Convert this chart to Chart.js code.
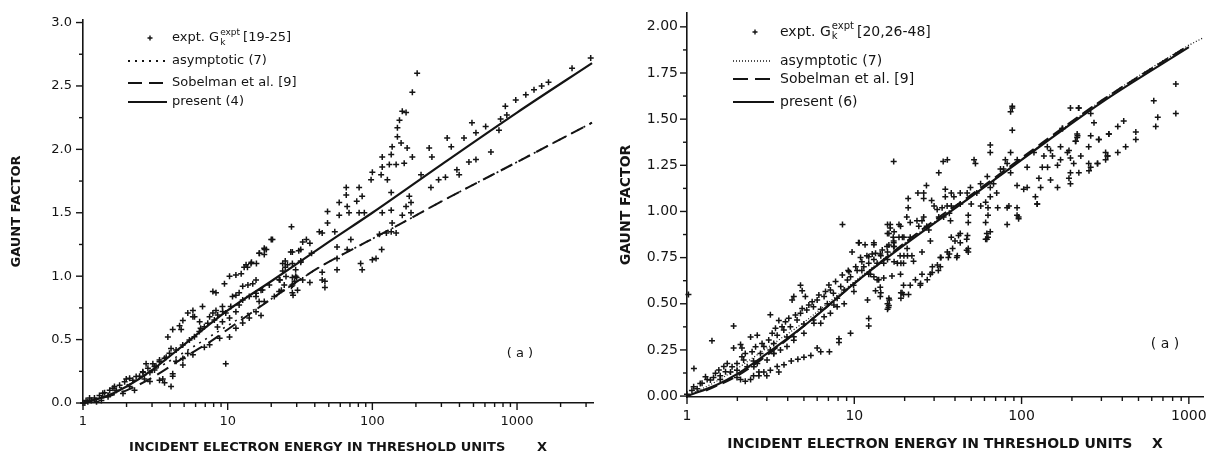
<!DOCTYPE html>
<html>
<head>
<meta charset="utf-8">
<script src="https://cdn.jsdelivr.net/npm/chart.js@4"></script>
<style>
  html, body { margin: 0; padding: 0; background: #fff; }
  #wrap { position: relative; width: 1215px; height: 459px; overflow: hidden; }
  canvas { position: absolute; top: 0; }
  #left { left: 0; }
  #right { left: 600px; }
</style>
</head>
<body>
<div id="wrap">
  <canvas id="left" width="600" height="459"></canvas>
  <canvas id="right" width="615" height="459"></canvas>
</div>
<script>
// ---- data: [x, G] pairs ----
const leftExpt = [
  [204,2.60],[189,2.45],[161,2.30],[171,2.29],[154,2.23],[149,2.17],[149,2.10],[158,2.05],[137,2.02],[174,2.01],
  [117,1.94],[135,1.96],[189,1.94],[117,1.86],[131,1.88],[146,1.88],[166,1.89],[100,1.82],[98,1.76],[115,1.80],
  [127,1.76],[66,1.70],[81,1.70],[66,1.64],[85,1.63],[135,1.66],[78,1.59],[67,1.55],[49,1.51],[59,1.48],
  [69,1.50],[81,1.50],[88,1.50],[117,1.50],[135,1.52],[161,1.48],[185,1.50],[247,2.01],[258,1.94],[329,2.09],
  [351,2.02],[430,2.09],[488,2.21],[520,2.13],[607,2.18],[217,1.80],[254,1.70],[287,1.76],[320,1.78],[384,1.84],
  [398,1.80],[465,1.90],[520,1.92],[180,1.63],[185,1.58],[171,1.55],[137,1.42],[135,1.35],[146,1.34],[112,1.33],
  [125,1.34],[116,1.21],[100,1.13],[106,1.14],[85,1.05],[83,1.10],[71,1.29],[67,1.21],[57,1.23],[57,1.14],
  [57,1.05],[45,1.03],[47,0.96],[59,1.58],[49,1.42],[55,1.35],[45,1.34],[43,1.35],[35,1.29],[37,1.26],
  [33,1.27],[27.6,1.39],[32,1.21],[28,1.19],[38,1.18],[32,1.11],[24,1.10],[25,1.07],[20,1.29],[18,1.21],
  [16.6,1.18],[14.6,1.11],[13,1.07],[30,0.99],[29,0.96],[37,0.95],[33,0.97],[45,0.97],[47,0.91],[23,0.97],
  [23.5,0.89],[27.6,0.92],[3230,2.72],[2400,2.64],[1650,2.53],[1480,2.50],[1310,2.47],[1150,2.43],[980,2.39],[830,2.34],
  [750,2.15],[770,2.24],[850,2.27],[660,1.98],
  [20.4,1.29],[17.9,1.22],[16.5,1.18],[17.9,1.17],[27.3,1.19],[31,1.20],[32,1.12],[25,1.12],[25.9,1.09],[13.4,1.09],
  [14.5,1.10],[12.4,1.02],[11.4,1.01],[10.3,1.00],[9.5,0.94],[7.9,0.88],[8.3,0.87],[6.7,0.76],[5.9,0.68],[4.77,0.58],
  [4.06,0.43],[15.7,0.97],[14.9,0.94],[13.8,0.93],[12.7,0.92],[12.0,0.87],[11.4,0.85],[10.8,0.84],[15.7,0.84],[17.0,0.89],
  [24,1.04],[28,1.10],[29.5,1.0],[28,0.93],[24.6,0.93],[21,0.84],[22.7,0.88],[28,0.87],[30.4,0.89],[17,0.69],
  [16.5,0.80],[10.3,0.67],[11.4,0.72],[9.2,0.64],[9.7,0.71],[8.5,0.60],[8.3,0.73],[9.2,0.76],[7.9,0.71],[7.5,0.68],
  [6.5,0.59],[6.4,0.64],[5.75,0.73],[5.75,0.68],[5.3,0.71],[4.9,0.65],[4.65,0.61],[4.17,0.58],[3.86,0.52],[10.3,0.52],
  [8.8,0.51],[7.5,0.46],[6.9,0.44],[5.75,0.38],[4.9,0.30],[4.17,0.23],[3.56,0.19],[9.7,0.31],[11.4,0.59],[12.7,0.63],
  [14.1,0.67],[15.7,0.72],[17.9,0.80],[4.06,0.13],[3.2,0.29],[3.04,0.31],[2.73,0.31],[2.9,0.24],[3.76,0.36],[3.38,0.34],
  [3.12,0.26],[3.66,0.16],[4.17,0.21],[4.9,0.35],[4.4,0.33],[5.3,0.39],[2.6,0.24],[2.46,0.21],[2.21,0.18],[1.99,0.19],
  [1.79,0.14],[1.65,0.13],[1.53,0.10],[1.41,0.08],[1.30,0.06],[1.20,0.04],[1.11,0.04],[1.05,0.02],[2.27,0.10],[2.10,0.13],
  [1.89,0.075],[1.70,0.10],[1.49,0.05],[1.34,0.02],[1.24,0.01],[2.9,0.17],[3.38,0.18],[2.66,0.19],[1.03,0.0],[1.08,0.01],
  [1.14,0.02],[1.0,0.0],[28,0.99],[28.3,0.85],[13.7,1.07],[15.8,1.10],[18.5,1.21],
  [1.37,0.077],[1.61,0.116],[1.94,0.168],[2.10,0.195],[2.33,0.208],[2.59,0.247],[2.81,0.274],[3.12,0.287],[3.38,0.326],[3.66,0.352],
  [3.96,0.392],[4.40,0.418],[4.89,0.458],[5.44,0.497],[5.89,0.523],[6.37,0.563],[6.90,0.602],[7.28,0.629],[8.09,0.655],[8.53,0.694],
  [9.23,0.721],[10.5,0.76],[12.0,0.773],[12.7,0.813],[14.1,0.839],[15.7,0.865],[17.4,0.892],[19.4,0.931],[22.7,0.971],[25.3,0.997],
  [29.5,1.05]
];
const leftAsym    = [[1.2,0.03],[2,0.14],[3,0.25],[5,0.40],[10,0.61],[20,0.82],[43,1.07],[91,1.27],[161,1.42],[290,1.58],[1000,1.90],[3300,2.21]];
const leftSobel   = [[1,0],[2,0.10],[3,0.20],[5,0.36],[7.5,0.48],[10,0.58],[20,0.82],[43,1.07],[91,1.27],[161,1.42],[290,1.58],[1000,1.90],[3300,2.21]];
const leftPresent = [[1,0],[1.5,0.06],[2,0.13],[3,0.26],[5,0.46],[10,0.73],[20,0.96],[50,1.27],[100,1.50],[300,1.88],[1000,2.29],[3300,2.68]];

const rightExpt = [
  [8.5,0.93],[15.8,0.93],[18.5,0.93],[15.8,0.88],[17.3,0.89],[19.8,0.86],[10.7,0.83],[9.7,0.78],[13.1,0.82],[12.8,0.77],
  [10.9,0.75],[11.4,0.70],[10.4,0.68],[12.2,0.72],[14.4,0.76],[15.8,0.78],[17.3,0.81],[15.0,0.72],[19.0,0.72],[19.8,0.76],
  [20.7,0.80],[14.0,0.63],[14.4,0.56],[16.2,0.52],[15.8,0.47],[19.0,0.56],[19.0,0.53],[12.2,0.42],[12.2,0.38],[9.5,0.34],
  [8.1,0.31],[8.1,0.29],[7.1,0.24],[6.3,0.24],[6.0,0.26],[5.5,0.22],[5.0,0.21],[4.6,0.20],[4.2,0.19],[3.8,0.17],
  [3.46,0.16],[3.15,0.14],[2.88,0.13],[2.69,0.13],[3.54,0.13],[3.0,0.11],[2.69,0.11],[2.5,0.11],[2.4,0.09],[2.23,0.08],
  [2.09,0.09],[1.99,0.10],[4.77,0.60],[4.88,0.57],[4.35,0.54],[5.1,0.54],[4.25,0.52],[3.15,0.44],[3.54,0.41],[1.9,0.38],
  [1.41,0.30],[2.4,0.32],[2.63,0.33],[2.13,0.26],[1.9,0.26],[2.09,0.28],[1.66,0.16],[1.82,0.13],[1.58,0.11],[1.44,0.10],
  [1.32,0.09],[1.23,0.07],[1.15,0.04],[1.07,0.03],[1.0,0.01],[1.10,0.15],[1.02,0.55],
  [1.58,0.09],[1.99,0.14],[2.5,0.19],[3.15,0.25],[3.96,0.32],[5.0,0.39],[6.3,0.47],[7.9,0.53],[9.9,0.60],[12.5,0.66],
  [15.8,0.74],[1.74,0.177],[2.18,0.195],[2.29,0.159],[2.75,0.231],[2.88,0.268],[3.30,0.285],[3.46,0.33],[3.79,0.358],[4.15,0.376],
  [4.55,0.412],[4.77,0.448],[5.2,0.466],[5.7,0.484],[6.0,0.52],[6.6,0.539],[6.9,0.50],[7.2,0.575],[7.5,0.557],[8.3,0.593],
  [8.7,0.575],[9.1,0.629],[9.5,0.647],[5.7,0.412],[6.3,0.394],[5.0,0.34],[4.35,0.303],[3.96,0.268],[3.62,0.249],[3.30,0.231],
  [3.01,0.195],[2.63,0.177],[6.6,0.43],[7.2,0.448],[7.9,0.484],[8.7,0.50],
  [12.0,0.52],[15.8,0.50],[16.0,0.48],[18.1,0.72],[18.8,0.76],[20.8,0.76],[14.3,0.59],[14.3,0.54],[19.4,0.86],[16.4,0.91],
  [17.1,0.86],[10.6,0.83],[9.2,0.68],
  [1.096,0.05],[1.20,0.068],[1.29,0.105],[1.38,0.087],[1.48,0.123],[1.55,0.141],[1.70,0.132],[1.86,0.159],[1.99,0.177],[2.13,0.213],
  [2.23,0.231],[2.45,0.24],[2.57,0.267],[2.81,0.285],[3.08,0.304],[3.23,0.34],[3.38,0.367],[3.70,0.376],[3.88,0.403],[4.06,0.421],
  [4.45,0.439],[4.88,0.475],[5.35,0.493],[5.60,0.511],[6.14,0.548],[6.73,0.566],[7.05,0.602],[7.73,0.62],[8.48,0.656],[9.30,0.674],
  [10.2,0.701],[11.1,0.728],[12.2,0.755],[13.4,0.773],[14.7,0.791],[16.1,0.818],
  [2.51,0.159],[3.30,0.231],[4.35,0.322],[5.74,0.394],[7.55,0.493],[9.95,0.566],[13.1,0.647],[17.3,0.728],
  [88,1.56],[88,1.44],[196,1.56],[220,1.56],[259,1.53],[175,1.45],[333,1.42],[290,1.39],[259,1.41],[215,1.40],
  [210,1.38],[192,1.33],[196,1.29],[171,1.28],[149,1.33],[153,1.30],[326,1.30],[318,1.28],[284,1.26],[259,1.24],
  [253,1.22],[220,1.21],[192,1.18],[196,1.15],[164,1.13],[149,1.17],[133,1.24],[143,1.24],[130,1.13],[127,1.18],
  [121,1.08],[124,1.04],[108,1.13],[103,1.12],[94,1.14],[86,1.32],[80,1.28],[78,1.23],[65,1.36],[65,1.32],
  [52,1.28],[53,1.26],[71,1.10],[65,1.08],[61,1.05],[57,1.03],[65,1.13],[84,1.03],[94,1.02],[96,0.97],
  [82,0.93],[61,0.94],[62,0.88],[61,0.85],[47,0.85],[47,0.79],[41,0.75],[37,0.77],[33,0.75],[42,0.87],
  [38,0.86],[38,1.10],[43,1.10],[50,1.04],[38,1.03],[35,1.12],[35,1.08],[36,1.28],[34,1.27],[32,1.21],
  [27,1.14],[29,1.06],[30,1.03],[26,1.10],[26,1.07],[24,1.10],[32,0.97],[33.5,1.02],[37,0.99],[17.2,1.27],
  [21,1.07],[21,1.02],[20.6,0.97],[21.6,0.94],[18.9,0.92],[18.5,0.86],[16.4,0.93],[16.1,0.88],[17.2,0.84],[25.4,0.95],
  [24.3,0.92],[27.9,0.90],[37.6,0.95],[43,0.88],[40,0.84],[28.5,0.84],[25.4,0.78],[22.1,0.76],[22.6,0.73],[19.7,0.72],
  [18.9,0.66],[16.8,0.65],[15.0,0.64],[13.7,0.63],[13.4,0.57],[32.7,0.70],[29.2,0.67],[25.4,0.66],[23.2,0.63],[24.8,0.60],
  [19.7,0.60],[19.3,0.56],[21.1,0.55],[16.1,0.53],[16.1,0.49],[13.1,0.83],[11.6,0.82],[11.9,0.76],[11.1,0.68],[12.2,0.66],
  [13.1,0.74],[14.3,0.77],[15.7,0.81],[17.2,0.83],
  [13.7,0.72],[17.2,0.81],[21.6,0.86],[27.1,0.92],[34.2,0.97],[43,1.04],[54,1.10],[68,1.15],[86,1.21],[108,1.24],
  [136,1.30],[171,1.35],[215,1.42],[271,1.48],[23.7,0.95],[26.0,0.97],[31.3,1.01],[35.9,1.03],[39.4,1.08],[47.3,1.10],
  [49.5,1.13],[56.9,1.15],[62.4,1.19],[74.8,1.23],[82,1.26],[94.2,1.28],[118.6,1.32],[142.6,1.35],
  [836,1.69],[836,1.53],[617,1.60],[652,1.51],[634,1.46],[482,1.43],[482,1.39],[408,1.49],[376,1.46],[332,1.42],
  [419,1.35],[376,1.32],[327,1.30],[318,1.32],[289,1.39],[252,1.35],[285,1.26],[252,1.26],[226,1.30],[216,1.41],
  [211,1.38],[188,1.32],[205,1.26],[196,1.21],[164,1.25],[219,1.56],[176,1.45],[88,1.57],[86,1.54],
  [124,1.04],[94,0.98],[96,0.96],[82,1.02],[72,1.02],[63,1.02],[63,0.98],[65,0.89],[63,0.86],[62,0.85],
  [48,0.98],[48,0.94],[47.5,0.87],[48,0.80],[48,0.78],[43,0.83],[38.7,0.80],[41.3,0.76],[36.5,0.75],[36,0.78],
  [32.7,0.75],[31.4,0.71],[31.8,0.68],[29.3,0.70],[28.5,0.66],[27.3,0.63],[24.9,0.61],[21.6,0.60],[19.7,0.55]
];
const rightAsym    = [[1,0],[1.5,0.08],[2,0.15],[3,0.26],[5,0.40],[10,0.62],[20,0.83],[50,1.08],[100,1.28],[300,1.60],[1000,1.90],[1215,1.94]];
const rightSobel   = [[1.3,0.03],[2,0.11],[3,0.22],[5,0.38],[10,0.61],[20,0.83],[30,0.95],[50,1.09],[100,1.29],[300,1.60],[1000,1.90]];
const rightPresent = [[1,0],[1.5,0.06],[2,0.12],[3,0.23],[5,0.38],[7,0.49],[10,0.61],[20,0.82],[50,1.08],[100,1.28],[300,1.59],[1000,1.89]];

const xMajor = [1, 10, 100, 1000];
const ink = '#141414';

function toXY(arr) { return arr.map(p => ({ x: p[0], y: p[1] })); }

function logTicks(max) {
  const out = [];
  for (let d = 1; d <= 1000; d *= 10) {
    for (let m = 1; m <= 9; m++) {
      const v = m * d;
      if (v <= max) out.push({ value: v, big: m === 1 });
    }
  }
  return out;
}

function linTicks(max, step, every) {
  const out = [];
  for (let i = 0; i * step <= max + 1e-9; i++) {
    out.push({ value: +(i * step).toFixed(4), big: i % every === 0 });
  }
  return out;
}

function cross(ctx, x, y, r) {
  ctx.beginPath();
  ctx.moveTo(x - r, y); ctx.lineTo(x + r, y);
  ctx.moveTo(x, y - r); ctx.lineTo(x, y + r);
  ctx.stroke();
}

// tick marks, legend and panel tag
const decor = {
  id: 'decor',
  afterDraw(chart, args, o) {
    const ctx = chart.ctx;
    const xs = chart.scales.x, ys = chart.scales.y;
    const f = o.size;
    ctx.save();
    ctx.strokeStyle = ink;
    ctx.fillStyle = ink;
    ctx.lineWidth = 1.4;
    xs.ticks.forEach(t => {
      const px = xs.getPixelForValue(t.value);
      ctx.beginPath();
      ctx.moveTo(px, xs.top);
      ctx.lineTo(px, xs.top + (t.big ? 7 : 4));
      ctx.stroke();
    });
    ys.ticks.forEach(t => {
      const py = ys.getPixelForValue(t.value);
      ctx.beginPath();
      ctx.moveTo(ys.right, py);
      ctx.lineTo(ys.right - (t.big ? 7 : 4), py);
      ctx.stroke();
    });

    // legend
    const L = o.legend;
    const [r0, r1, r2, r3] = L.rows;
    ctx.lineWidth = 1.4;
    cross(ctx, L.markX, r0, 2.5);
    ctx.textBaseline = 'middle';
    ctx.font = f + 'px "DejaVu Sans"';
    let x = L.textX;
    ctx.fillText('expt. G', x, r0);
    x += ctx.measureText('expt. G').width;
    ctx.font = Math.round(f * 0.72) + 'px "DejaVu Sans"';
    ctx.fillText('k', x + 1, r0 + f * 0.35);
    ctx.fillText('expt', x + 1, r0 - f * 0.42);
    const w = ctx.measureText('expt').width;
    ctx.font = f + 'px "DejaVu Sans"';
    ctx.fillText(L.ref, x + w + 4, r0);
    ctx.fillText(L.labels[0], L.textX, r1);
    ctx.fillText(L.labels[1], L.textX, r2);
    ctx.fillText(L.labels[2], L.textX, r3);

    ctx.lineCap = 'butt';
    ctx.setLineDash(L.dot);
    ctx.lineWidth = L.dotWidth;
    ctx.beginPath(); ctx.moveTo(L.lineX0, r1); ctx.lineTo(L.lineX1, r1); ctx.stroke();
    ctx.setLineDash(L.dash);
    ctx.lineWidth = 2;
    ctx.beginPath(); ctx.moveTo(L.lineX0, r2); ctx.lineTo(L.lineX1, r2); ctx.stroke();
    ctx.setLineDash([]);
    ctx.beginPath(); ctx.moveTo(L.lineX0, r3); ctx.lineTo(L.lineX1 + 2, r3); ctx.stroke();

    // panel tag
    ctx.textAlign = 'center';
    ctx.font = f + 'px "DejaVu Sans"';
    ctx.fillText('( a )', o.tag[0], o.tag[1]);
    ctx.restore();
  }
};

function makeChart(id, cfg) {
  const lineBase = { showLine: true, pointRadius: 0, borderColor: ink, fill: false, cubicInterpolationMode: 'monotone' };
  return new Chart(document.getElementById(id).getContext('2d'), {
    type: 'scatter',
    data: {
      datasets: [
        { label: 'expt', data: toXY(cfg.expt), pointStyle: 'cross', pointRadius: 3, borderWidth: 1.5,
          borderColor: ink, backgroundColor: ink, clip: false },
        Object.assign({ label: 'asymptotic', data: toXY(cfg.asym), borderWidth: cfg.dotWidth, borderDash: cfg.dot }, lineBase),
        Object.assign({ label: 'Sobelman', data: toXY(cfg.sobel), borderWidth: 2, borderDash: cfg.dash }, lineBase),
        Object.assign({ label: 'present', data: toXY(cfg.present), borderWidth: 2.2 }, lineBase)
      ]
    },
    options: {
      responsive: false,
      animation: false,
      events: [],
      layout: { padding: cfg.pad },
      plugins: {
        legend: { display: false },
        tooltip: { enabled: false },
        decor: cfg.decor
      },
      scales: {
        x: {
          type: 'logarithmic',
          min: 1,
          max: cfg.xMax,
          afterBuildTicks: s => { s.ticks = logTicks(cfg.xMax); },
          afterFit: s => { s.height = cfg.xH; },
          grid: { display: false, drawTicks: true, tickLength: 7 },
          border: { display: true, color: ink, width: 1.6 },
          ticks: {
            autoSkip: false, maxRotation: 0, padding: 4, color: ink,
            font: { family: 'DejaVu Sans', size: cfg.size },
            callback: v => xMajor.includes(v) ? String(v) : ''
          },
          title: {
            display: true, text: cfg.xTitle, color: ink,
            font: { family: 'DejaVu Sans', size: cfg.titleSize, weight: 'bold' },
            padding: { top: 0, bottom: cfg.xTitlePad }
          }
        },
        y: {
          min: cfg.yMin,
          max: cfg.yMax,
          afterBuildTicks: s => { s.ticks = linTicks(cfg.yMax, cfg.yStep, 2); },
          afterFit: s => { s.width = cfg.yW; },
          grid: { display: false, drawTicks: true, tickLength: 7 },
          border: { display: true, color: ink, width: 1.6 },
          ticks: {
            autoSkip: false, padding: cfg.yTickPad, color: ink,
            font: { family: 'DejaVu Sans', size: cfg.size },
            callback: function (v) {
              const k = v / (cfg.yStep * 2);
              return Math.abs(k - Math.round(k)) < 1e-6 ? v.toFixed(cfg.yDec) : '';
            }
          },
          title: {
            display: true, text: 'GAUNT FACTOR', color: ink,
            font: { family: 'DejaVu Sans', size: cfg.titleSize, weight: 'bold' },
            padding: { top: cfg.yTitlePad, bottom: 0 }
          }
        }
      }
    },
    plugins: [decor]
  });
}

document.addEventListener('DOMContentLoaded', function () {
  makeChart('left', {
    expt: leftExpt, asym: leftAsym, sobel: leftSobel, present: leftPresent,
    dot: [2, 5], dotWidth: 1.6, dash: [13, 7],
    xMax: 3350, yMin: 0, yMax: 3.02, yStep: 0.25, yDec: 1,
    pad: { top: 20, right: 7, left: 0, bottom: 0 }, xH: 56, yW: 83,
    size: 13, titleSize: 13, xTitlePad: 4, yTitlePad: 9, yTickPad: 4,
    xTitle: 'INCIDENT ELECTRON ENERGY IN THRESHOLD UNITS       X',
    decor: {
      size: 13, tag: [520, 354],
      legend: {
        rows: [38, 61, 83, 102], markX: 150, textX: 172, lineX0: 128, lineX1: 165,
        ref: '[19-25]', labels: ['asymptotic (7)', 'Sobelman et al. [9]', 'present (4)'],
        dot: [2, 5], dotWidth: 1.8, dash: [14, 7]
      }
    }
  });

  makeChart('right', {
    expt: rightExpt, asym: rightAsym, sobel: rightSobel, present: rightPresent,
    dot: [1, 2], dotWidth: 1.2, dash: [12, 6],
    xMax: 1215, yMin: -0.005, yMax: 2.075, yStep: 0.125, yDec: 2,
    pad: { top: 13, right: 12, left: 0, bottom: 0 }, xH: 62, yW: 87,
    size: 14, titleSize: 14, xTitlePad: 6, yTitlePad: 18, yTickPad: 2,
    xTitle: 'INCIDENT ELECTRON ENERGY IN THRESHOLD UNITS    X',
    decor: {
      size: 14, tag: [565, 344],
      legend: {
        rows: [32, 61, 79, 102], markX: 155, textX: 180, lineX0: 133, lineX1: 172,
        ref: '[20,26-48]', labels: ['asymptotic (7)', 'Sobelman et al. [9]', 'present (6)'],
        dot: [1, 2], dotWidth: 1.3, dash: [15, 7]
      }
    }
  });
});
</script>
</body>
</html>
